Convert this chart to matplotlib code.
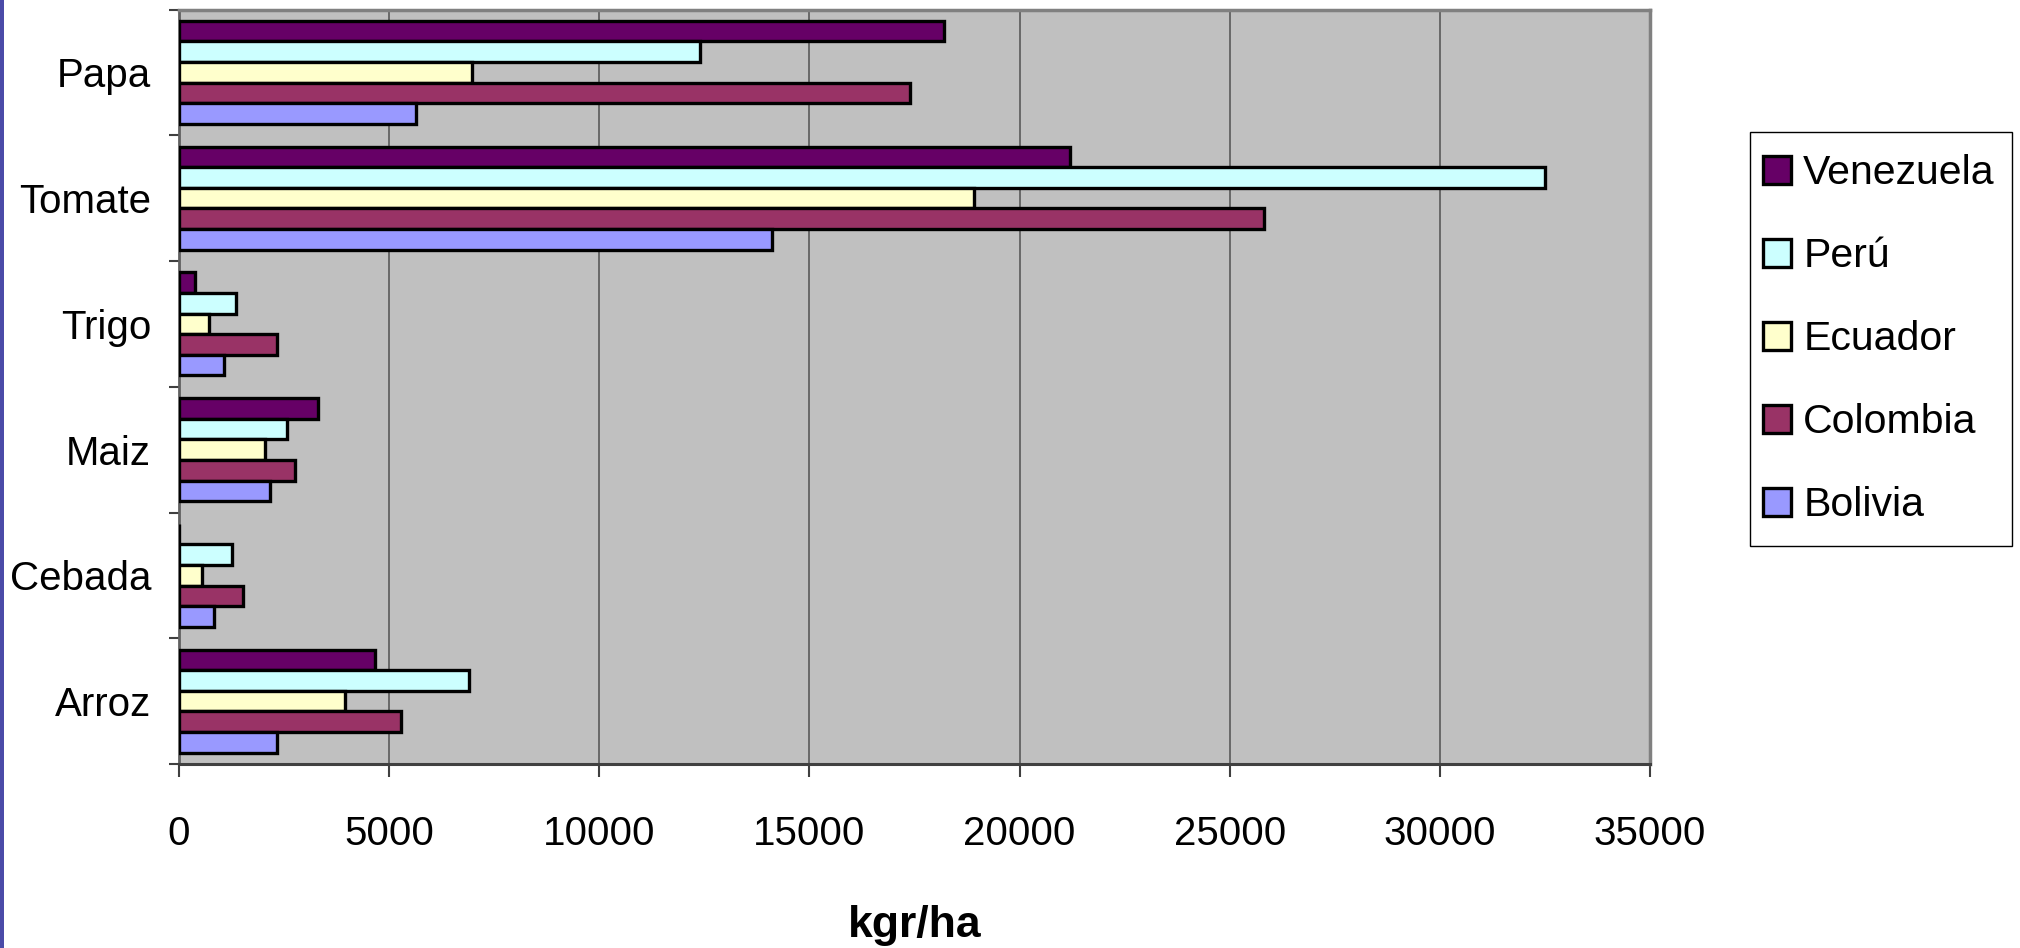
import numpy as np
import matplotlib
matplotlib.use("Agg")
import matplotlib.pyplot as plt
import matplotlib.patches as mpatches

# crops listed bottom -> top (Papa ends up on top)
crops = ["Arroz", "Cebada", "Maiz", "Trigo", "Tomate", "Papa"]

venezuela = [4660, 0, 3300, 370, 21200, 18200]
peru      = [6900, 1270, 2580, 1350, 32500, 12400]
ecuador   = [3950, 540, 2050, 720, 18910, 6960]
colombia  = [5290, 1530, 2750, 2320, 25820, 17400]
bolivia   = [2340, 830, 2160, 1070, 14100, 5630]

countries = ["Venezuela", "Perú", "Ecuador", "Colombia", "Bolivia"]
colors    = ["#660066", "#CCFFFF", "#FFFFCC", "#993366", "#9999FF"]
series    = [venezuela, peru, ecuador, colombia, bolivia]

x_ticks = [0, 5000, 10000, 15000, 20000, 25000, 30000, 35000]

plt.rcParams["font.family"] = ["Liberation Sans", "DejaVu Sans"]

W, H = 2020, 948
fig = plt.figure(figsize=(W / 100, H / 100), dpi=100)
fig.patch.set_facecolor("white")
ax = fig.add_axes([179 / W, 1 - 764 / H, (1650 - 179) / W, (764 - 9.5) / H])
ax.set_facecolor("#C0C0C0")

y = np.arange(len(crops))
h = 0.164
offsets = [2 * h, h, 0, -h, -2 * h]
for name, vals, col, off in zip(countries, series, colors, offsets):
    ax.barh(y + off, vals, height=h, color=col, edgecolor="black",
            linewidth=2.4, label=name, zorder=3)

ax.set_xlim(0, 35000)
ax.set_ylim(-0.5, len(crops) - 0.5)

ax.set_xticks(x_ticks)
ax.set_xticklabels([str(v) for v in x_ticks], fontsize=29)
ax.xaxis.grid(True, color="#505050", linewidth=1.1, zorder=0)
ax.set_axisbelow(True)
ax.tick_params(axis="x", length=9, width=1.5, color="#404040", pad=28)

ax.set_yticks(np.arange(-0.5, len(crops), 1.0))
ax.set_yticklabels([])
ax.set_yticks(y, minor=True)
ax.set_yticklabels(crops, minor=True, fontsize=29)
ax.tick_params(axis="y", which="major", length=7, width=1.5, color="#404040")
ax.tick_params(axis="y", which="minor", length=0, pad=20)

ax.set_xlabel("kgr/ha", fontsize=32, fontweight="bold", labelpad=37)

for side in ["top", "right"]:
    ax.spines[side].set_color("#808080")
    ax.spines[side].set_linewidth(2.5)
ax.spines["left"].set_color("#606060")
ax.spines["left"].set_linewidth(2)
ax.spines["bottom"].set_color("#404040")
ax.spines["bottom"].set_linewidth(2.2)

# legend box drawn separately so its padding can differ vertically
fig.add_artist(mpatches.Rectangle((1750 / W, 1 - 546 / H), (2012 - 1750) / W,
                                  (546 - 132) / H, transform=fig.transFigure,
                                  facecolor="white", edgecolor="black",
                                  linewidth=1, zorder=1))
handles = [mpatches.Patch(facecolor=c, edgecolor="black", linewidth=2.4, label=n)
           for n, c in zip(countries, colors)]
leg = fig.legend(handles=handles, loc="upper left",
                 bbox_to_anchor=(1763 / W, 1 - 154 / H), fontsize=29.5,
                 frameon=False, handlelength=0.68, handleheight=0.68,
                 handletextpad=0.3, labelspacing=1.1, borderpad=0,
                 borderaxespad=0)
leg.set_zorder(2)

# blue slide border on the left edge
fig.add_artist(mpatches.Rectangle((0, 0), 4 / W, 1, transform=fig.transFigure,
                                  facecolor="#4B4BA8", edgecolor="none"))

fig.savefig("out.png", dpi=100)
